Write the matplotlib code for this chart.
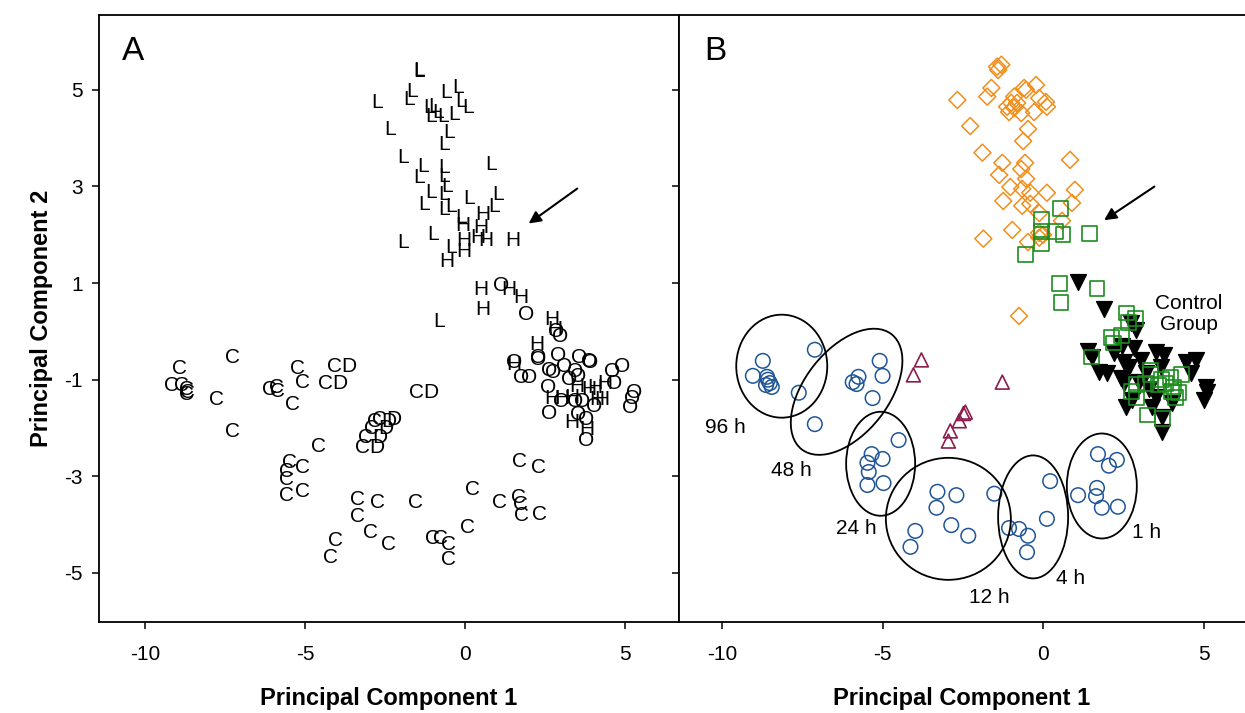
import matplotlib.pyplot as plt
from matplotlib.patches import Ellipse
from matplotlib.transforms import ScaledTranslation

plt.rcParams['font.family'] = ['Liberation Sans', 'DejaVu Sans']
plt.rcParams['axes.unicode_minus'] = False

# ---- panel A: letter markers ----
L_x = [-1.45, -1.45, -2.74, -1.76, -1.64, -0.60, -0.22, -0.13, 0.09, -1.13, -0.97, -0.85, -1.07,
       -0.69, -0.35, -2.33, -0.50, -0.66, -1.95, -1.32, -0.66, 0.82, -1.42, -0.66, -0.57, -1.07,
       -0.66, 0.13, 1.04, -1.29, -0.66, -0.44, 0.91, -0.13, -1.92, -1.01, -0.44, -0.82]
L_y = [5.37, 5.40, 4.73, 4.79, 4.96, 4.94, 5.04, 4.75, 4.63, 4.63, 4.65, 4.54, 4.44,
       4.44, 4.48, 4.17, 4.11, 3.86, 3.59, 3.41, 3.39, 3.45, 3.18, 3.20, 2.99, 2.87,
       2.83, 2.76, 2.83, 2.62, 2.52, 2.58, 2.58, 2.35, 1.83, 2.00, 1.73, 0.20]

H_x = [0.57, -0.06, 0.50, -0.03, 0.41, 0.66, 1.51, -0.03, -0.57, 0.50, 0.57, 1.38, 1.76, 2.70,
       2.80, 2.23, 1.54, 4.37, 3.49, 3.87, 4.06, 2.70, 3.02, 3.33, 4.12, 4.28, 3.33, 3.80]
H_y = [2.41, 2.20, 2.16, 1.89, 1.94, 1.89, 1.89, 1.65, 1.44, 0.86, 0.45, 0.86, 0.71, 0.24,
       0.03, -0.28, -0.69, -1.07, -1.15, -1.21, -1.17, -1.38, -1.38, -1.36, -1.42, -1.42, -1.89, -2.04]

O_x = [1.13, 1.92, 2.86, 2.96, 2.30, 2.30, 2.92, 1.54, 1.76, 2.01, 2.64, 2.77, 3.11, 3.58, 3.87,
       3.90, 3.43, 3.24, 2.61, 3.55, 4.59, 4.91, 4.65, 5.28, 5.22, 5.16, 3.02, 3.43, 3.65, 4.03,
       2.64, 3.55, 3.80, 3.80]
O_y = [0.96, 0.34, -0.01, -0.11, -0.53, -0.59, -0.49, -0.65, -0.96, -0.96, -0.80, -0.86, -0.73,
       -0.55, -0.63, -0.65, -0.84, -1.00, -1.17, -0.94, -0.84, -0.73, -1.07, -1.27, -1.38, -1.58,
       -1.46, -1.46, -1.46, -1.56, -1.69, -1.73, -1.83, -2.25]

C_x = [-8.93, -7.26, -9.18, -8.87, -8.71, -8.68, -8.71, -7.77, -7.26, -6.10, -5.88, -5.85, -5.22,
       -5.09, -5.38, -4.59, -5.47, -5.09, -5.57, -5.57, -5.57, -5.09, -3.36, -2.74, -1.54, -3.36,
       -2.96, -4.06, -4.21, -2.39, -1.01, -0.75, -0.50, -0.50, 0.25, 1.09, 1.69, 2.31, 1.66,
       1.72, 1.78, 2.34, 0.09]
C_y = [-0.76, -0.55, -1.11, -1.11, -1.21, -1.27, -1.31, -1.42, -2.08, -1.21, -1.17, -1.25, -0.76,
       -1.05, -1.52, -2.39, -2.72, -2.81, -2.91, -3.07, -3.39, -3.32, -3.49, -3.55, -3.55, -3.84,
       -4.17, -4.32, -4.67, -4.42, -4.28, -4.28, -4.42, -4.73, -3.28, -3.55, -2.70, -2.81, -3.43,
       -3.59, -3.82, -3.80, -4.05]

CD_x = [-3.84, -4.12, -1.29, -2.42, -2.58, -2.70, -2.86, -2.96]
CD_y = [-0.73, -1.07, -1.27, -1.83, -1.87, -2.00, -2.20, -2.41]

# ---- panel B: groups ----
dia_x = [-1.43, -1.30, -1.40, -1.61, -1.74, -2.67, -0.59, -0.53, -0.22, -0.12, 0.09, 0.12, -0.90,
         -0.99, -0.81, -1.12, -0.90, -1.06, -0.68, -0.28, -2.27, -0.47, -0.62, -1.89, 0.84, -1.27,
         -0.56, -0.68, -1.37, -0.53, -1.02, -0.65, -0.40, 0.12, -1.24, 0.99, 0.90, -0.65, -0.40,
         -0.12, 0.59, -0.96, -1.86, -0.47, -0.12, 0.00, -0.12, -0.75]
dia_y = [5.48, 5.52, 5.41, 5.04, 4.86, 4.79, 5.04, 5.00, 5.10, 4.83, 4.75, 4.65, 4.86,
         4.73, 4.73, 4.65, 4.63, 4.54, 4.52, 4.54, 4.25, 4.19, 3.94, 3.70, 3.55, 3.49,
         3.49, 3.36, 3.24, 3.16, 2.99, 2.95, 2.87, 2.87, 2.70, 2.93, 2.66, 2.60, 2.64,
         2.45, 2.29, 2.10, 1.92, 1.85, 2.04, 2.00, 1.94, 0.32]

sq_x = [0.53, -0.06, -0.06, 0.40, 0.62, -0.06, 1.46, -0.56, 0.50, 1.68, 0.56, 2.61, 2.89, 2.67,
        2.14, 2.45, 2.20, 1.52, 3.35, 3.35, 3.20, 3.70, 3.98, 4.32, 2.76, 2.92, 2.92, 3.60, 3.82,
        4.07, 4.22, 4.13, 4.01, 3.26, 3.73]
sq_y = [2.54, 2.31, 2.06, 2.06, 2.00, 1.81, 2.02, 1.60, 1.00, 0.88, 0.59, 0.38, 0.26, 0.18,
        -0.13, -0.09, -0.24, -0.53, -0.80, -0.90, -1.07, -1.00, -0.96, -0.90, -1.25, -1.36, -1.09,
        -1.11, -1.07, -1.15, -1.27, -1.36, -1.25, -1.73, -1.81]

tri_dn_x = [1.09, 1.89, 2.89, 2.73, 1.52, 1.74, 1.99, 2.20, 2.45, 2.83, 2.52, 2.67, 3.04, 3.51,
            3.76, 3.66, 3.20, 2.42, 2.52, 4.44, 4.75, 4.60, 5.09, 5.12, 5.00, 2.58, 3.39, 3.51,
            2.76, 4.01, 3.70, 3.70, 1.40, 3.00, 3.30]
tri_dn_y = [1.02, 0.47, 0.03, 0.18, -0.53, -0.84, -0.86, -0.45, -0.30, -0.34, -0.63, -0.73, -0.59,
            -0.42, -0.49, -0.73, -0.86, -0.96, -1.07, -0.63, -0.59, -0.86, -1.15, -1.25, -1.42,
            -1.56, -1.56, -1.36, -1.42, -1.48, -1.77, -2.08, -0.40, -1.05, -1.20]

tri_up_x = [-3.79, -4.04, -1.27, -2.42, -2.48, -2.61, -2.89, -2.95]
tri_up_y = [-0.59, -0.90, -1.05, -1.67, -1.70, -1.85, -2.06, -2.27]

circ_x = [-7.11, -8.73, -9.04, -8.60, -8.57, -8.51, -8.45, -8.63, -7.61, -7.11,
          -5.09, -5.00, -5.93, -5.75, -5.81, -5.31,
          -4.50, -5.34, -5.00, -5.47, -5.43, -5.47, -4.97,
          -3.29, -2.70, -3.32, -2.86, -2.33, -3.98, -4.13, -1.52,
          -1.06, -0.75, -0.47, -0.50, 0.12, 0.22,
          1.71, 2.05, 2.30, 1.09, 1.68, 1.65, 1.83, 2.33]
circ_y = [-0.38, -0.61, -0.92, -0.94, -1.00, -1.07, -1.15, -1.11, -1.27, -1.92,
          -0.61, -0.92, -1.05, -0.94, -1.09, -1.38,
          -2.25, -2.54, -2.64, -2.72, -2.91, -3.18, -3.14,
          -3.32, -3.39, -3.65, -4.01, -4.23, -4.13, -4.46, -3.36,
          -4.07, -4.09, -4.23, -4.57, -3.88, -3.10,
          -2.54, -2.78, -2.66, -3.39, -3.24, -3.41, -3.65, -3.63]

# time-point ellipses: centre (data), size in pixels, tilt
ell_cx = [-8.14, -6.12, -5.06, -2.95, -0.31, 1.83]
ell_cy = [-0.72, -1.25, -2.74, -3.88, -3.84, -3.20]
ell_w = [91, 146, 69, 125, 70, 70]
ell_h = [103, 84, 104, 122, 123, 105]
ell_ang = [0, 52, 0, 0, 0, 0]

time_labels = ['96 h', '48 h', '24 h', '12 h', '4 h', '1 h']
time_lx = [-9.91, -7.83, -5.81, -1.67, 0.87, 3.23]
time_ly = [-1.98, -2.87, -4.07, -5.50, -5.11, -4.16]

fig = plt.figure(figsize=(12.45, 7.13), dpi=100)
axa = fig.add_axes([0.0795, 0.128, 0.4659, 0.851])
axb = fig.add_axes([0.5454, 0.128, 0.4546, 0.851], sharey=axa)

for lab, xs, ys in [('L', L_x, L_y), ('H', H_x, H_y), ('O', O_x, O_y),
                    ('C', C_x, C_y), ('CD', CD_x, CD_y)]:
    for x, y in zip(xs, ys):
        axa.text(x, y, lab, ha='center', va='center', fontsize=15, color='black')

axa.annotate('', xy=(1.92, 2.20), xytext=(3.58, 2.99),
             arrowprops=dict(arrowstyle='-|>', color='black', lw=1.5, mutation_scale=18))
axa.text(0.04, 0.965, 'A', transform=axa.transAxes, fontsize=24, va='top', ha='left')
axa.set_xlim(-11.44, 6.69)
axa.set_ylim(-6.01, 6.55)
axa.set_xticks([-10, -5, 0, 5])
axa.set_yticks([5, 3, 1, -1, -3, -5])
axa.set_xlabel('Principal Component 1', fontsize=17, fontweight='bold', labelpad=16)
axa.set_ylabel('Principal Component 2', fontsize=17, fontweight='bold', labelpad=8)

axb.scatter(dia_x, dia_y, marker='D', s=75, facecolors='none', edgecolors='#F28E1C', linewidths=1.1)
axb.scatter(tri_dn_x, tri_dn_y, marker='v', s=130, color='black')
axb.scatter(sq_x, sq_y, marker='s', s=115, facecolors='none', edgecolors='#1E8C1E', linewidths=1.2)
axb.scatter(tri_up_x, tri_up_y, marker='^', s=100, facecolors='none', edgecolors='#8C1C4E', linewidths=1.2)
axb.scatter(circ_x, circ_y, marker='o', s=110, facecolors='none', edgecolors='#1F5597', linewidths=1.1)

for cx, cy, w, h, a in zip(ell_cx, ell_cy, ell_w, ell_h, ell_ang):
    tr = fig.dpi_scale_trans + ScaledTranslation(cx, cy, axb.transData)
    axb.add_patch(Ellipse((0, 0), w / 100, h / 100, angle=a, transform=tr,
                          fill=False, ec='black', lw=1.3))

for t, x, y in zip(time_labels, time_lx, time_ly):
    axb.text(x, y, t, ha='center', va='center', fontsize=15)
axb.text(4.53, 0.36, 'Control\nGroup', ha='center', va='center', fontsize=15, linespacing=1.15)

axb.annotate('', xy=(1.83, 2.27), xytext=(3.54, 3.03),
             arrowprops=dict(arrowstyle='-|>', color='black', lw=1.5, mutation_scale=18))
axb.text(0.045, 0.965, 'B', transform=axb.transAxes, fontsize=24, va='top', ha='left')
axb.set_xlim(-11.34, 6.29)
axb.set_xticks([-10, -5, 0, 5])
axb.tick_params(axis='y', labelleft=False)
axb.set_xlabel('Principal Component 1', fontsize=17, fontweight='bold', labelpad=16)
axb.spines['right'].set_visible(False)

for ax in (axa, axb):
    ax.tick_params(direction='out', length=5, width=1.1, labelsize=15)
    ax.tick_params(axis='x', pad=12)
    ax.tick_params(axis='y', pad=6.5)
    for sp in ax.spines.values():
        sp.set_linewidth(1.3)

fig.savefig('out.png', dpi=100)
